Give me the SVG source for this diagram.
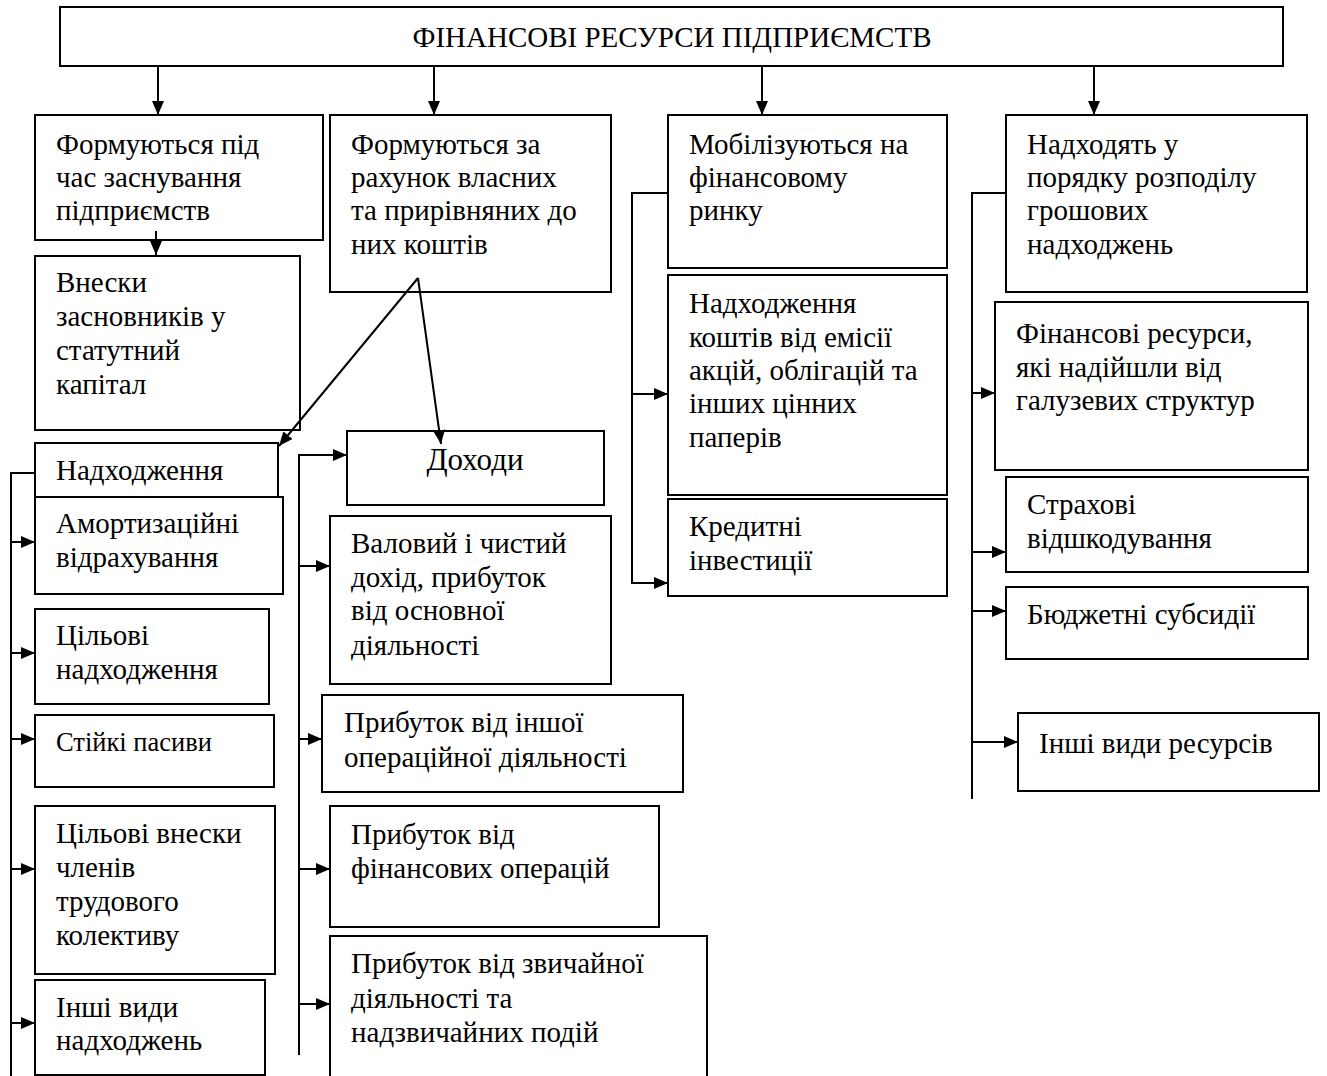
<svg xmlns="http://www.w3.org/2000/svg" width="1327" height="1076" viewBox="0 0 1327 1076">
<style>
rect{fill:#fff;stroke:#000;stroke-width:2}
text{font-family:"Liberation Serif","Times New Roman",serif;font-size:29px;fill:#000}
.c line,.c polyline{stroke:#000;stroke-width:2;fill:none}
.a{marker-end:url(#ah)}
.sm{font-size:26.5px}
.lg{font-size:31px}
</style>
<defs>
<marker id="ah" markerUnits="userSpaceOnUse" viewBox="0 0 14 12" markerWidth="14" markerHeight="12" refX="14" refY="6" orient="auto">
<path d="M0,0 L14,6 L0,12 z" fill="#000"/>
</marker>
</defs>
<rect width="1327" height="1076" style="stroke:none"/>

<g id="top"><rect x="60" y="7" width="1223" height="59"/><text x="672" y="47" text-anchor="middle">ФІНАНСОВІ РЕСУРСИ ПІДПРИЄМСТВ</text></g>

<g id="nA"><rect x="35" y="115" width="288" height="125"/><text x="56"><tspan x="56" y="154">Формуються під</tspan><tspan x="56" y="187">час заснування</tspan><tspan x="56" y="220">підприємств</tspan></text></g>
<g id="nB"><rect x="330" y="115" width="281" height="177"/><text><tspan x="351" y="154">Формуються за</tspan><tspan x="351" y="187">рахунок власних</tspan><tspan x="351" y="220">та прирівняних до</tspan><tspan x="351" y="254">них коштів</tspan></text></g>
<g id="nC"><rect x="668" y="115" width="279" height="153"/><text><tspan x="689" y="154">Мобілізуються на</tspan><tspan x="689" y="187">фінансовому</tspan><tspan x="689" y="220">ринку</tspan></text></g>
<g id="nD"><rect x="1006" y="115" width="301" height="177"/><text><tspan x="1027" y="154">Надходять у</tspan><tspan x="1027" y="187">порядку розподілу</tspan><tspan x="1027" y="220">грошових</tspan><tspan x="1027" y="254">надходжень</tspan></text></g>

<g id="nVnesky"><rect x="35" y="256" width="265" height="174"/><text><tspan x="56" y="292">Внески</tspan><tspan x="56" y="326">засновників у</tspan><tspan x="56" y="360">статутний</tspan><tspan x="56" y="394">капітал</tspan></text></g>
<g id="nNadh"><rect x="35" y="443" width="243" height="54"/><text x="56" y="480">Надходження</text></g>
<g id="nAmort"><rect x="35" y="497" width="248" height="97"/><text><tspan x="56" y="533">Амортизаційні</tspan><tspan x="56" y="567">відрахування</tspan></text></g>
<g id="nCilNadh"><rect x="35" y="609" width="234" height="95"/><text><tspan x="56" y="645">Цільові</tspan><tspan x="56" y="679">надходження</tspan></text></g>
<g id="nPasyvy"><rect x="35" y="715" width="239" height="72"/><text class="sm" x="56" y="751">Стійкі пасиви</text></g>
<g id="nCilVnes"><rect x="35" y="806" width="240" height="168"/><text><tspan x="56" y="843">Цільові внески</tspan><tspan x="56" y="877">членів</tspan><tspan x="56" y="911">трудового</tspan><tspan x="56" y="945">колективу</tspan></text></g>
<g id="nInshiNadh"><rect x="35" y="980" width="230" height="95"/><text><tspan x="56" y="1017">Інші види</tspan><tspan x="56" y="1050">надходжень</tspan></text></g>

<g id="nDohody"><rect x="347" y="431" width="257" height="74"/><text class="lg" x="475" y="470" text-anchor="middle">Доходи</text></g>
<g id="nValovyi"><rect x="330" y="516" width="281" height="168"/><text><tspan x="351" y="553">Валовий і чистий</tspan><tspan x="351" y="587">дохід, прибуток</tspan><tspan x="351" y="620">від основної</tspan><tspan x="351" y="655">діяльності</tspan></text></g>
<g id="nInshaOp"><rect x="322" y="695" width="361" height="97"/><text><tspan x="344" y="732">Прибуток від іншої</tspan><tspan x="344" y="767">операційної діяльності</tspan></text></g>
<g id="nFinOp"><rect x="330" y="806" width="329" height="121"/><text><tspan x="351" y="844">Прибуток від</tspan><tspan x="351" y="878">фінансових операцій</tspan></text></g>
<g id="nZvych"><rect x="330" y="936" width="377" height="150"/><text><tspan x="351" y="973">Прибуток від звичайної</tspan><tspan x="351" y="1008">діяльності та</tspan><tspan x="351" y="1042">надзвичайних подій</tspan></text></g>

<g id="nEmisia"><rect x="668" y="275" width="279" height="220"/><text><tspan x="689" y="313">Надходження</tspan><tspan x="689" y="347">коштів від емісії</tspan><tspan x="689" y="380">акцій, облігацій та</tspan><tspan x="689" y="413">інших цінних</tspan><tspan x="689" y="447">паперів</tspan></text></g>
<g id="nKredyt"><rect x="668" y="499" width="279" height="97"/><text><tspan x="689" y="536">Кредитні</tspan><tspan x="689" y="570">інвестиції</tspan></text></g>

<g id="nGaluz"><rect x="995" y="302" width="313" height="168"/><text><tspan x="1016" y="343">Фінансові ресурси,</tspan><tspan x="1016" y="377">які надійшли від</tspan><tspan x="1016" y="410">галузевих структур</tspan></text></g>
<g id="nStrah"><rect x="1006" y="477" width="302" height="95"/><text><tspan x="1027" y="514">Страхові</tspan><tspan x="1027" y="548">відшкодування</tspan></text></g>
<g id="nBudzh"><rect x="1006" y="587" width="302" height="72"/><text x="1027" y="624">Бюджетні субсидії</text></g>
<g id="nInshiRes"><rect x="1018" y="713" width="301" height="78"/><text x="1039" y="753">Інші види ресурсів</text></g>

<g id="connectors" class="c">
<line class="a" x1="158" y1="66" x2="158" y2="115"/>
<line class="a" x1="434" y1="66" x2="434" y2="115"/>
<line class="a" x1="762" y1="66" x2="762" y2="115"/>
<line class="a" x1="1094" y1="66" x2="1094" y2="115"/>
<line class="a" x1="156" y1="231" x2="156" y2="255"/>
<line class="a" x1="418" y1="278" x2="279" y2="446"/>
<line class="a" x1="418" y1="278" x2="441" y2="444"/>
<polyline points="35,473 11,473 11,1076"/>
<line class="a" x1="11" y1="542" x2="35" y2="542"/>
<line class="a" x1="11" y1="653" x2="35" y2="653"/>
<line class="a" x1="11" y1="739" x2="35" y2="739"/>
<line class="a" x1="11" y1="869" x2="35" y2="869"/>
<line class="a" x1="11" y1="1023" x2="35" y2="1023"/>
<polyline class="a" points="299,1055 299,455 347,455"/>
<line class="a" x1="299" y1="566" x2="330" y2="566"/>
<line class="a" x1="299" y1="739" x2="322" y2="739"/>
<line class="a" x1="299" y1="869" x2="330" y2="869"/>
<line class="a" x1="299" y1="1004" x2="330" y2="1004"/>
<polyline class="a" points="668,193 632,193 632,583 668,583"/>
<line class="a" x1="632" y1="394" x2="668" y2="394"/>
<polyline points="1006,193 972,193 972,799"/>
<line class="a" x1="972" y1="393" x2="995" y2="393"/>
<line class="a" x1="972" y1="552" x2="1006" y2="552"/>
<line class="a" x1="972" y1="611" x2="1006" y2="611"/>
<line class="a" x1="972" y1="742" x2="1018" y2="742"/>
</g>
</svg>
